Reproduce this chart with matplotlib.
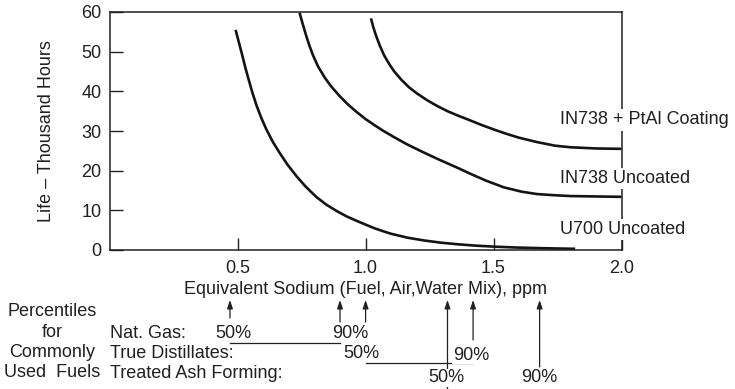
import matplotlib.pyplot as plt
from matplotlib import transforms

plt.rcParams['font.family'] = ['Liberation Sans', 'DejaVu Sans']

# curves (ppm, thousand hours)
u700_x = [0.492, 0.505, 0.516, 0.53, 0.542, 0.557, 0.574, 0.593, 0.613, 0.638, 0.665, 0.695,
          0.730, 0.767, 0.807, 0.845, 0.885, 0.925, 0.963, 1.0, 1.034, 1.07, 1.099, 1.164,
          1.229, 1.294, 1.359, 1.43, 1.501, 1.59, 1.683, 1.75, 1.819]
u700_y = [55.5, 52.3, 49.6, 46.0, 43.2, 39.8, 36.4, 33.2, 30.3, 27.2, 24.4, 21.5,
          18.6, 15.9, 13.4, 11.5, 9.9, 8.5, 7.4, 6.4, 5.5, 4.7, 4.1, 3.1,
          2.4, 1.85, 1.45, 1.1, 0.85, 0.62, 0.47, 0.38, 0.3]

in738_x = [0.742, 0.755, 0.768, 0.78, 0.795, 0.814, 0.84, 0.866, 0.90, 0.931, 0.963, 1.0,
           1.034, 1.07, 1.11, 1.16, 1.22, 1.29, 1.36, 1.41, 1.47, 1.54, 1.61, 1.67,
           1.74, 1.80, 1.90, 2.0]
in738_y = [59.8, 56.8, 54.0, 51.6, 49.0, 46.3, 43.5, 41.2, 38.7, 36.7, 34.9, 33.0,
           31.5, 30.0, 28.5, 26.7, 24.8, 22.7, 20.7, 19.2, 17.5, 15.8, 14.7, 14.1,
           13.8, 13.6, 13.5, 13.4]

ptal_x = [1.021, 1.03, 1.04, 1.055, 1.073, 1.093, 1.112, 1.14, 1.17, 1.20, 1.242, 1.28,
          1.32, 1.36, 1.40, 1.45, 1.50, 1.55, 1.60, 1.67, 1.74, 1.80, 1.90, 2.0]
ptal_y = [58.4, 56.2, 54.2, 51.6, 49.0, 46.8, 45.0, 42.9, 41.0, 39.5, 37.7, 36.3,
          35.0, 33.9, 32.9, 31.6, 30.4, 29.3, 28.3, 27.2, 26.3, 25.9, 25.6, 25.5]

curve_labels = ['IN738 + PtAl Coating', 'IN738 Uncoated', 'U700 Uncoated']
label_y = [32.8, 18.1, 5.2]

# fuel percentiles (ppm)
fuels = ['Nat. Gas:', 'True Distillates:', 'Treated Ash Forming:']
p50 = [0.47, 1.0, 1.32]
p90 = [0.9, 1.42, 1.68]

W, H = 735, 389
fig = plt.figure(figsize=(W / 100, H / 100), dpi=100)
ax = fig.add_axes([109.7 / W, 1 - 250 / H, (621.5 - 109.7) / W, (250 - 12) / H])

ink = '#231f20'
fs = 13
for xs, ys in [(u700_x, u700_y), (in738_x, in738_y), (ptal_x, ptal_y)]:
    ax.plot(xs, ys, color='#141414', lw=1.9, solid_capstyle='butt', solid_joinstyle='round')

ax.set_xlim(0, 2.0)
ax.set_ylim(0, 60)
ax.set_xticks([0.5, 1.0, 1.5, 2.0])
ax.set_xticklabels(['0.5', '1.0', '1.5', '2.0'])
ax.set_yticks(range(0, 61, 10))
ax.tick_params(direction='in', length=9, width=1, colors=ink, labelsize=fs)
ax.tick_params(axis='x', pad=7)
ax.tick_params(axis='y', pad=6)
for s in ax.spines.values():
    s.set_linewidth(1.1)
    s.set_color(ink)

ax.set_xlabel('Equivalent Sodium (Fuel, Air,Water Mix), ppm', fontsize=fs, color=ink, labelpad=3)
ax.set_ylabel('Life \u2013 Thousand Hours', fontsize=fs, color=ink)
ax.yaxis.set_label_coords(-0.107, 0.5)

for lab, ly in zip(curve_labels, label_y):
    ax.text(1.76, ly, lab, fontsize=fs, color=ink, ha='left', va='center', clip_on=False,
            zorder=5, bbox=dict(facecolor='white', edgecolor='none', pad=1.5))

# --- percentile block under the axis (x in data, y in pixels from top) ---
tr = transforms.blended_transform_factory(ax.transData, fig.transFigure)


def fy(py):
    return 1 - py / H


block = ['Percentiles', 'for', 'Commonly', 'Used  Fuels']
for i, t in enumerate(block):
    fig.text(52 / W, fy(312 + 20.3 * i), t, fontsize=fs, color=ink, ha='center', va='center')

row_y = [333, 353, 373]
for f, ry in zip(fuels, row_y):
    fig.text(110 / W, fy(ry), f, fontsize=fs, color=ink, ha='left', va='center')

# text positions (px offsets from arrow), arrow tails, underline rows
txt_y50 = [333, 353, 378]
txt_y90 = [333, 355, 378]
dx50 = [3, -4, -1]
dx90 = [10, -2, 0]
tail50 = [318, 322, 389]
tail90 = [322, 340, 367]
line_y = [343, 363, None]
tip = 300

arrow = dict(arrowstyle='-|>,head_length=0.5,head_width=0.17', color=ink, lw=0.9,
             shrinkA=0, shrinkB=0)
for i in range(3):
    for xv, tail, ty, dx, lab in [(p50[i], tail50[i], txt_y50[i], dx50[i], '50%'),
                                  (p90[i], tail90[i], txt_y90[i], dx90[i], '90%')]:
        ax.annotate('', xy=(xv, fy(tip)), xytext=(xv, fy(tail)), xycoords=tr, textcoords=tr,
                    arrowprops=arrow, annotation_clip=False)
        off = transforms.offset_copy(tr, fig=fig, x=dx, y=0, units='dots')
        ax.text(xv, fy(ty), lab, transform=off, fontsize=fs, color=ink, ha='center', va='center',
                zorder=6, bbox=dict(facecolor='white', edgecolor='none', pad=0.5))
    if line_y[i] is not None:
        ax.plot([p50[i], p90[i]], [fy(line_y[i])] * 2, transform=tr, color=ink, lw=0.9,
                clip_on=False)

fig.savefig('out.png', dpi=100)
